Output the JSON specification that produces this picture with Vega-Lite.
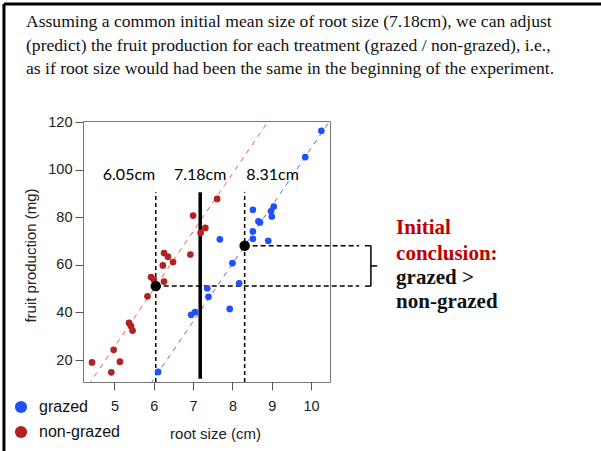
{
  "$schema": "https://vega.github.io/schema/vega-lite/v6.json",
  "width": 247,
  "height": 261,
  "autosize": {"type": "none"},
  "padding": {"left": 83, "top": 121, "right": 271, "bottom": 69},
  "background": "white",
  "config": {
    "view": {"stroke": "#777", "strokeWidth": 1},
    "axis": {"grid": false, "domain": false, "tickSize": 8, "tickColor": "#555", "labelFont": "Liberation Sans", "labelFontSize": 14.5, "labelColor": "#222", "titleFont": "Liberation Sans", "titleFontSize": 15, "titleFontWeight": "normal", "titleColor": "#222"}
  },
  "datasets": {
    "points": [
      {"group": "non-grazed", "x": 4.43, "y": 19.0},
      {"group": "non-grazed", "x": 4.92, "y": 14.8},
      {"group": "non-grazed", "x": 4.98, "y": 24.3},
      {"group": "non-grazed", "x": 5.14, "y": 19.3},
      {"group": "non-grazed", "x": 5.37, "y": 35.6},
      {"group": "non-grazed", "x": 5.42, "y": 34.3},
      {"group": "non-grazed", "x": 5.46, "y": 32.4},
      {"group": "non-grazed", "x": 5.84, "y": 46.8},
      {"group": "non-grazed", "x": 5.93, "y": 54.9},
      {"group": "non-grazed", "x": 6.0, "y": 53.8},
      {"group": "non-grazed", "x": 6.26, "y": 53.0},
      {"group": "non-grazed", "x": 6.23, "y": 59.8},
      {"group": "non-grazed", "x": 6.26, "y": 65.0},
      {"group": "non-grazed", "x": 6.36, "y": 63.5},
      {"group": "non-grazed", "x": 6.49, "y": 61.2},
      {"group": "non-grazed", "x": 6.93, "y": 64.4},
      {"group": "non-grazed", "x": 7.0, "y": 80.8},
      {"group": "non-grazed", "x": 7.19, "y": 73.5},
      {"group": "non-grazed", "x": 7.31, "y": 75.6},
      {"group": "non-grazed", "x": 7.61, "y": 87.8},
      {"group": "grazed", "x": 6.11, "y": 15.0},
      {"group": "grazed", "x": 6.95, "y": 39.0},
      {"group": "grazed", "x": 7.05, "y": 40.2},
      {"group": "grazed", "x": 7.36, "y": 50.2},
      {"group": "grazed", "x": 7.39, "y": 46.6},
      {"group": "grazed", "x": 7.68, "y": 70.8},
      {"group": "grazed", "x": 7.93, "y": 41.5},
      {"group": "grazed", "x": 8.0, "y": 60.8},
      {"group": "grazed", "x": 8.17, "y": 52.3},
      {"group": "grazed", "x": 8.52, "y": 83.2},
      {"group": "grazed", "x": 8.66, "y": 78.4},
      {"group": "grazed", "x": 8.7, "y": 77.9},
      {"group": "grazed", "x": 8.52, "y": 74.1},
      {"group": "grazed", "x": 8.52, "y": 71.0},
      {"group": "grazed", "x": 8.91, "y": 70.2},
      {"group": "grazed", "x": 8.98, "y": 82.6},
      {"group": "grazed", "x": 9.05, "y": 84.6},
      {"group": "grazed", "x": 9.0, "y": 80.4},
      {"group": "grazed", "x": 9.85, "y": 105.4},
      {"group": "grazed", "x": 10.26, "y": 116.5}
    ],
    "fits": [
      {"group": "non-grazed", "x": 4.2, "y": 6.1},
      {"group": "non-grazed", "x": 10.48, "y": 158.7},
      {"group": "grazed", "x": 4.2, "y": -31.8},
      {"group": "grazed", "x": 10.48, "y": 120.8}
    ],
    "frame": [
      {"x": 2.19, "x2": 17.4, "y": 169.8, "y2": 169.8},
      {"x": 2.19, "x2": 2.19, "y": 169.8, "y2": -18.3}
    ],
    "vdash": [
      {"x": 6.05, "y": 10.74, "y2": 90.6},
      {"x": 8.31, "y": 10.74, "y2": 90.6}
    ],
    "vmean": [
      {"x": 7.18, "y": 12.1, "y2": 90.6}
    ],
    "hdash": [
      {"x": 8.31, "x2": 11.22, "y": 68.1},
      {"x": 6.05, "x2": 11.22, "y": 51.1}
    ],
    "adjusted": [
      {"x": 6.05, "y": 51.1},
      {"x": 8.31, "y": 68.1}
    ],
    "bracket": [
      {"x": 11.37, "x2": 11.52, "y": 68.1, "y2": 68.1},
      {"x": 11.52, "x2": 11.52, "y": 68.1, "y2": 51.1},
      {"x": 11.37, "x2": 11.52, "y": 51.1, "y2": 51.1},
      {"x": 11.52, "x2": 11.68, "y": 59.6, "y2": 59.6}
    ],
    "cmlabels": [
      {"x": 5.37, "y": 97.9, "text": "6.05cm"},
      {"x": 7.18, "y": 97.9, "text": "7.18cm"},
      {"x": 9.02, "y": 97.9, "text": "8.31cm"}
    ],
    "conclusion": [
      {"x": 12.16, "y": 75.6, "text": "Initial", "part": "head"},
      {"x": 12.16, "y": 64.6, "text": "conclusion:", "part": "head"},
      {"x": 12.16, "y": 54.5, "text": "grazed >", "part": "body"},
      {"x": 12.16, "y": 44.4, "text": "non-grazed", "part": "body"}
    ],
    "heading": [
      {"x": 2.75, "y": 162.3, "text": "Assuming a common initial mean size of root size (7.18cm), we can adjust"},
      {"x": 2.75, "y": 152.2, "text": "(predict) the fruit production for each treatment (grazed  /  non-grazed), i.e.,"},
      {"x": 2.75, "y": 142.5, "text": "as if root size would had been the same in the beginning of the experiment."}
    ]
  },
  "encoding": {
    "x": {"field": "x", "type": "quantitative", "scale": {"domain": [4.2, 10.48], "nice": false, "zero": false},
      "axis": {"values": [5, 6, 7, 8, 9, 10], "labelPadding": 9, "title": "root size (cm)", "titleX": 132, "titleY": 51, "titleBaseline": "middle"}},
    "y": {"field": "y", "type": "quantitative", "scale": {"domain": [10.74, 120.6], "nice": false, "zero": false},
      "axis": {"values": [20, 40, 60, 80, 100, 120], "labelPadding": 3, "title": "fruit production (mg)", "titleX": -53, "titleY": 134, "titleBaseline": "middle"}}
  },
  "layer": [
    {
      "data": {"name": "frame"},
      "mark": {"type": "rule", "color": "black", "strokeWidth": 3},
      "encoding": {"x2": {"field": "x2"}, "y2": {"field": "y2"}}
    },
    {
      "data": {"name": "fits"},
      "transform": [{"filter": "datum.group === 'non-grazed'"}],
      "mark": {"type": "line", "clip": true, "strokeWidth": 1, "strokeDash": [5, 5], "color": "#ff5555"},
      "encoding": {}
    },
    {
      "data": {"name": "fits"},
      "transform": [{"filter": "datum.group === 'grazed'"}],
      "mark": {"type": "line", "clip": true, "strokeWidth": 1, "strokeDash": [5, 5], "color": "#4f6ff0"},
      "encoding": {}
    },
    {
      "data": {"name": "vdash"},
      "mark": {"type": "rule", "color": "black", "strokeWidth": 1.5, "strokeDash": [4, 3]},
      "encoding": {"y2": {"field": "y2"}}
    },
    {
      "data": {"name": "vmean"},
      "mark": {"type": "rule", "color": "black", "strokeWidth": 3.5},
      "encoding": {"y2": {"field": "y2"}}
    },
    {
      "data": {"name": "hdash"},
      "mark": {"type": "rule", "color": "black", "strokeWidth": 1.5, "strokeDash": [5, 3]},
      "encoding": {"x2": {"field": "x2"}}
    },
    {
      "data": {"name": "points"},
      "mark": {"type": "circle", "size": 45, "opacity": 1},
      "encoding": {
        "color": {"field": "group", "type": "nominal", "scale": {"domain": ["grazed", "non-grazed"], "range": ["#1f4fff", "#b22222"]},
          "legend": {"title": null, "orient": "none", "legendX": -70, "legendY": 278, "padding": 0, "symbolType": "circle", "symbolSize": 150, "symbolStrokeWidth": 0, "labelFont": "Liberation Sans", "labelFontSize": 16, "labelColor": "#111", "labelOffset": 10, "rowPadding": 9}}
      }
    },
    {
      "data": {"name": "adjusted"},
      "mark": {"type": "circle", "size": 110, "color": "black", "opacity": 1}
    },
    {
      "data": {"name": "bracket"},
      "mark": {"type": "rule", "color": "black", "strokeWidth": 1.5},
      "encoding": {"x2": {"field": "x2"}, "y2": {"field": "y2"}}
    },
    {
      "data": {"name": "cmlabels"},
      "mark": {"type": "text", "font": "Lato", "fontSize": 16, "color": "black", "align": "center", "baseline": "middle"},
      "encoding": {"text": {"field": "text"}}
    },
    {
      "data": {"name": "conclusion"},
      "transform": [{"filter": "datum.part === 'head'"}],
      "mark": {"type": "text", "font": "Liberation Serif", "fontSize": 21, "fontWeight": "bold", "align": "left", "baseline": "middle", "color": "#c00000"},
      "encoding": {"text": {"field": "text"}}
    },
    {
      "data": {"name": "conclusion"},
      "transform": [{"filter": "datum.part === 'body'"}],
      "mark": {"type": "text", "font": "Liberation Serif", "fontSize": 21, "fontWeight": "bold", "align": "left", "baseline": "middle", "color": "#111111"},
      "encoding": {"text": {"field": "text"}}
    },
    {
      "data": {"name": "heading"},
      "mark": {"type": "text", "font": "Liberation Serif", "fontSize": 17.6, "color": "#111", "align": "left", "baseline": "middle"},
      "encoding": {"text": {"field": "text"}}
    }
  ]
}
